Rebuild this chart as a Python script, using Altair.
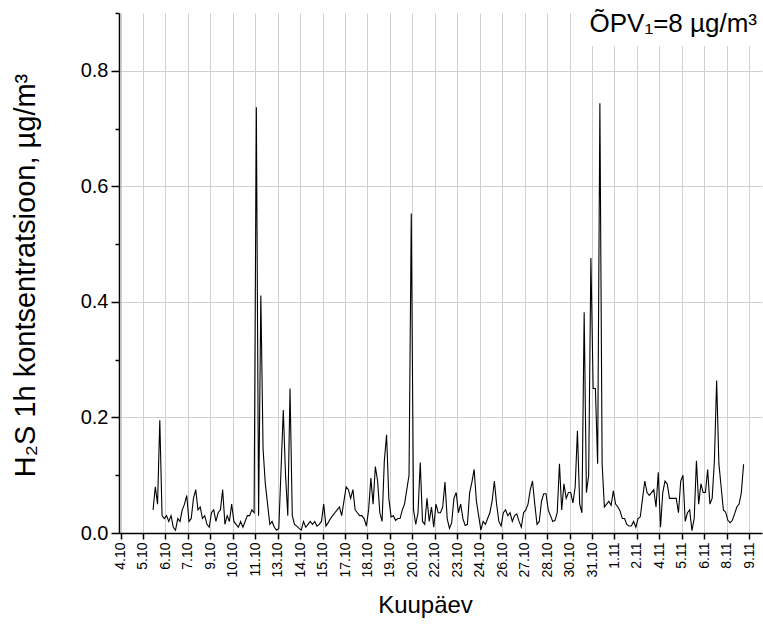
import altair as alt
import pandas as pd

# Date tick labels (equally spaced ticks on the time axis)
TICK_LABELS = ["4.10", "5.10", "6.10", "7.10", "9.10", "10.10", "11.10", "13.10",
               "14.10", "15.10", "17.10", "18.10", "19.10", "20.10", "22.10", "23.10",
               "24.10", "26.10", "27.10", "28.10", "30.10", "31.10", "1.11", "2.11",
               "4.11", "5.11", "6.11", "8.11", "9.11"]
STEPS_PER_TICK = 10      # measurement steps between two date ticks
FIRST_STEP = 14.5        # step index of the first measurement

# H2S 1h concentration, µg/m3
H2S = [
    0.04, 0.08, 0.05, 0.195, 0.03, 0.025, 0.03, 0.02, 0.03, 0.01,
    0.005, 0.025, 0.02, 0.04, 0.05, 0.065, 0.02, 0.025, 0.06, 0.075,
    0.04, 0.045, 0.025, 0.03, 0.015, 0.01, 0.035, 0.04, 0.02, 0.035,
    0.04, 0.075, 0.015, 0.03, 0.02, 0.05, 0.02, 0.015, 0.01, 0.02,
    0.01, 0.02, 0.03, 0.03,
    0.04, 0.035, 0.737, 0.03, 0.411, 0.145, 0.085, 0.05, 0.015, 0.02,
    0.01, 0.005, 0.008, 0.11, 0.213, 0.1, 0.03, 0.25, 0.03, 0.015,
    0.012, 0.008, 0.005, 0.02, 0.01, 0.015, 0.02, 0.015, 0.02, 0.012,
    0.015, 0.02, 0.05, 0.012, 0.018, 0.025, 0.03, 0.035, 0.04, 0.045,
    0.03, 0.055, 0.08,
    0.075, 0.06, 0.075, 0.04, 0.035, 0.03, 0.03, 0.025, 0.012, 0.04,
    0.095, 0.05, 0.115, 0.09, 0.035, 0.02, 0.125, 0.17, 0.06, 0.028,
    0.03, 0.022, 0.025, 0.025, 0.04, 0.05, 0.075, 0.1, 0.553, 0.04,
    0.015, 0.035, 0.122, 0.02, 0.015, 0.06, 0.02, 0.045, 0.01, 0.05,
    0.035, 0.035, 0.045, 0.088, 0.025,
    0.008, 0.018, 0.06, 0.07, 0.035, 0.05, 0.025, 0.013, 0.015, 0.07,
    0.088, 0.11, 0.055, 0.03, 0.005, 0.02, 0.015, 0.025, 0.035, 0.055,
    0.09, 0.05, 0.02, 0.012, 0.035, 0.04, 0.03, 0.035, 0.02, 0.03,
    0.033, 0.02, 0.01, 0.035, 0.04, 0.05, 0.075, 0.09, 0.05, 0.015,
    0.02, 0.055, 0.068, 0.068,
    0.04, 0.03, 0.02, 0.022, 0.035, 0.12, 0.04, 0.085, 0.06, 0.07,
    0.07, 0.052, 0.08, 0.177, 0.05, 0.035, 0.382, 0.07, 0.1, 0.476,
    0.25, 0.25, 0.12, 0.744, 0.12, 0.045, 0.05, 0.055, 0.048, 0.073,
    0.05, 0.045, 0.038, 0.025, 0.025, 0.015, 0.012, 0.012, 0.02, 0.01,
    0.025, 0.028, 0.06, 0.09, 0.07,
    0.065, 0.07, 0.075, 0.045, 0.105, 0.01, 0.07, 0.09, 0.085, 0.06,
    0.06, 0.06, 0.06, 0.035, 0.09, 0.1, 0.02, 0.035, 0.04, 0.004,
    0.025, 0.125, 0.05, 0.085, 0.07, 0.07, 0.11, 0.05, 0.06, 0.125,
    0.264, 0.12, 0.08, 0.04, 0.036, 0.022, 0.018, 0.022, 0.033, 0.045,
    0.05, 0.07, 0.119,
]

Y_TICKS = [0.0, 0.1, 0.2, 0.3, 0.4, 0.5, 0.6, 0.7, 0.8, 0.9]
ANNOTATION = "ÕPV₁=8 µg/m³"
Y_TITLE = "H₂S 1h kontsentratsioon, µg/m³"
X_TITLE = "Kuupäev"
FONT = "Liberation Sans"

df = pd.DataFrame({"t": [FIRST_STEP + i for i in range(len(H2S))], "v": H2S})
tick_vals = [k * STEPS_PER_TICK for k in range(len(TICK_LABELS))]
label_expr = "[" + ",".join(f"'{l}'" for l in TICK_LABELS) + f"][round(datum.value/{STEPS_PER_TICK})]"

even = "round(datum.value*10) % 2 == 0"

x_axis = alt.Axis(
    values=tick_vals, labelExpr=label_expr, labelAngle=270, labelFontSize=14,
    labelPadding=3, tickSize=6, tickWidth=1.5, tickColor="black",
    grid=True, gridColor="#d0d0d0", gridWidth=1,
    title=X_TITLE, titleFontSize=24, titleFontWeight="normal",
    titleX=306, titleY=72, titleBaseline="middle", titleAlign="center",
    domainColor="black", domainWidth=1.5, labelColor="black", titleColor="black",
)
y_axis = alt.Axis(
    values=Y_TICKS,
    labelExpr=f"{even} ? format(datum.value, '.1f') : ''",
    labelFontSize=20, labelPadding=3,
    tickSize={"condition": {"test": even, "value": 8}, "value": 4},
    tickWidth=1.5, tickColor="black",
    grid=True, gridColor="#d0d0d0", gridWidth=1,
    gridOpacity={"condition": {"test": f"{even} && datum.value > 0.05 && datum.value < 0.85", "value": 1}, "value": 0},
    title=Y_TITLE, titleFontSize=29, titleFontWeight="normal",
    titleAngle=270, titleX=-94, titleY=262, titleBaseline="middle", titleAlign="center",
    domainColor="black", domainWidth=1.5, labelColor="black", titleColor="black",
)

line = alt.Chart(df).mark_line(color="black", strokeWidth=1.1).encode(
    x=alt.X("t:Q", scale=alt.Scale(domain=[-0.67, 285.7], nice=False, zero=False), axis=x_axis),
    y=alt.Y("v:Q", scale=alt.Scale(domain=[0, 0.9], nice=False), axis=y_axis),
)

ann_df = pd.DataFrame({"label": [ANNOTATION]})
bg = alt.Chart(ann_df).mark_rect(color="white").encode(
    x=alt.value(456), x2=alt.value(643), y=alt.value(0.5), y2=alt.value(33)
)
ann = alt.Chart(ann_df).mark_text(
    align="right", baseline="alphabetic", fontSize=26, font=FONT, color="black"
).encode(text="label:N", x=alt.value(638), y=alt.value(19))

chart = alt.layer(line, bg, ann).properties(
    width=643, height=520,
    autosize=alt.AutoSizeParams(type="none"),
    padding={"left": 119, "top": 13, "right": 1, "bottom": 93},
    background="white",
).configure_view(stroke=None).configure_axis(labelFont=FONT, titleFont=FONT)

chart.save("out.html", embed_options={"renderer": "svg", "actions": False})
